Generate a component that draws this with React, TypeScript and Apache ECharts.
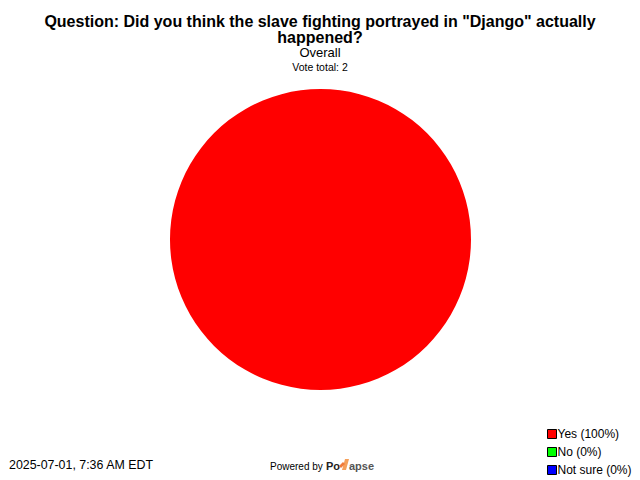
import React, { useEffect, useRef } from "react";
import * as echarts from "echarts";

const categories = ["Yes", "No", "Not sure"];
const votes = [2, 0, 0];
const percents = ["100%", "0%", "0%"];
const colors = ["#ff0000", "#00ff00", "#0000ff"];

const FONT = "Liberation Sans, Arial, Helvetica, sans-serif";

export default function App() {
  const ref = useRef<HTMLDivElement>(null);
  useEffect(() => {
    if (!ref.current) return;
    const chart = echarts.init(ref.current, undefined, { renderer: "svg" });
    const legendLabels: Record<string, string> = {};
    categories.forEach((c, i) => (legendLabels[c] = `${c} (${percents[i]})`));
    chart.setOption({
      animation: false,
      backgroundColor: "#ffffff",
      title: [
        {
          text: 'Question: Did you think the slave fighting portrayed in "Django" actually\nhappened?',
          left: 320,
          top: 13,
          textAlign: "center",
          padding: 0,
          textStyle: { fontFamily: FONT, fontSize: 16, fontWeight: "bold", color: "#000", lineHeight: 16 },
        },
        {
          text: "Overall",
          left: 320,
          top: 46,
          textAlign: "center",
          padding: 0,
          textStyle: { fontFamily: FONT, fontSize: 13, fontWeight: "normal", color: "#000" },
        },
        {
          text: "Vote total: 2",
          left: 320,
          top: 61,
          textAlign: "center",
          padding: 0,
          textStyle: { fontFamily: FONT, fontSize: 10.5, fontWeight: "normal", color: "#000" },
        },
      ],
      legend: {
        orient: "vertical",
        left: 547,
        top: 428,
        padding: 0,
        itemWidth: 9,
        itemHeight: 9,
        itemGap: 6,
        icon: "rect",
        selectedMode: false,
        data: categories,
        formatter: (name: string) => legendLabels[name],
        textStyle: { fontFamily: FONT, fontSize: 12, color: "#000", padding: [0, 0, 0, -4] },
        itemStyle: { borderColor: "#000", borderWidth: 1 },
      },
      series: [
        {
          type: "pie",
          center: [320.5, 239.5],
          radius: [0, 150.5],
          label: { show: false },
          labelLine: { show: false },
          emphasis: { disabled: true },
          silent: true,
          startAngle: 90,
          data: categories.map((c, i) => ({
            name: c,
            value: votes[i],
            itemStyle: { color: colors[i], borderWidth: 0 },
          })),
        },
      ],
      graphic: [
        {
          type: "text",
          left: 9,
          top: 459,
          style: { text: "2025-07-01, 7:36 AM EDT", fontFamily: FONT, fontSize: 12.4, fill: "#000" },
        },
        {
          type: "text",
          left: 270,
          top: 461,
          style: { text: "Powered by", fontFamily: FONT, fontSize: 10, fill: "#000" },
        },
        {
          type: "text",
          left: 326,
          top: 460,
          style: { text: "Po", fontFamily: FONT, fontSize: 11, fontWeight: "bold", fill: "#222" },
        },
        {
          type: "polygon",
          shape: { points: [[342, 470], [345, 459], [349, 459], [346, 470]] },
          style: { fill: "#f5a05a" },
        },
        {
          type: "polygon",
          shape: { points: [[339, 466], [343, 462], [345, 464], [341, 468]] },
          style: { fill: "#f07a3a" },
        },
        {
          type: "text",
          left: 349,
          top: 460,
          style: { text: "apse", fontFamily: FONT, fontSize: 11, fontWeight: "bold", fill: "#555" },
        },
      ],
    });
    return () => chart.dispose();
  }, []);
  return <div ref={ref} style={{ width: 640, height: 480, position: "absolute", left: 0, top: 0 }} />;
}
